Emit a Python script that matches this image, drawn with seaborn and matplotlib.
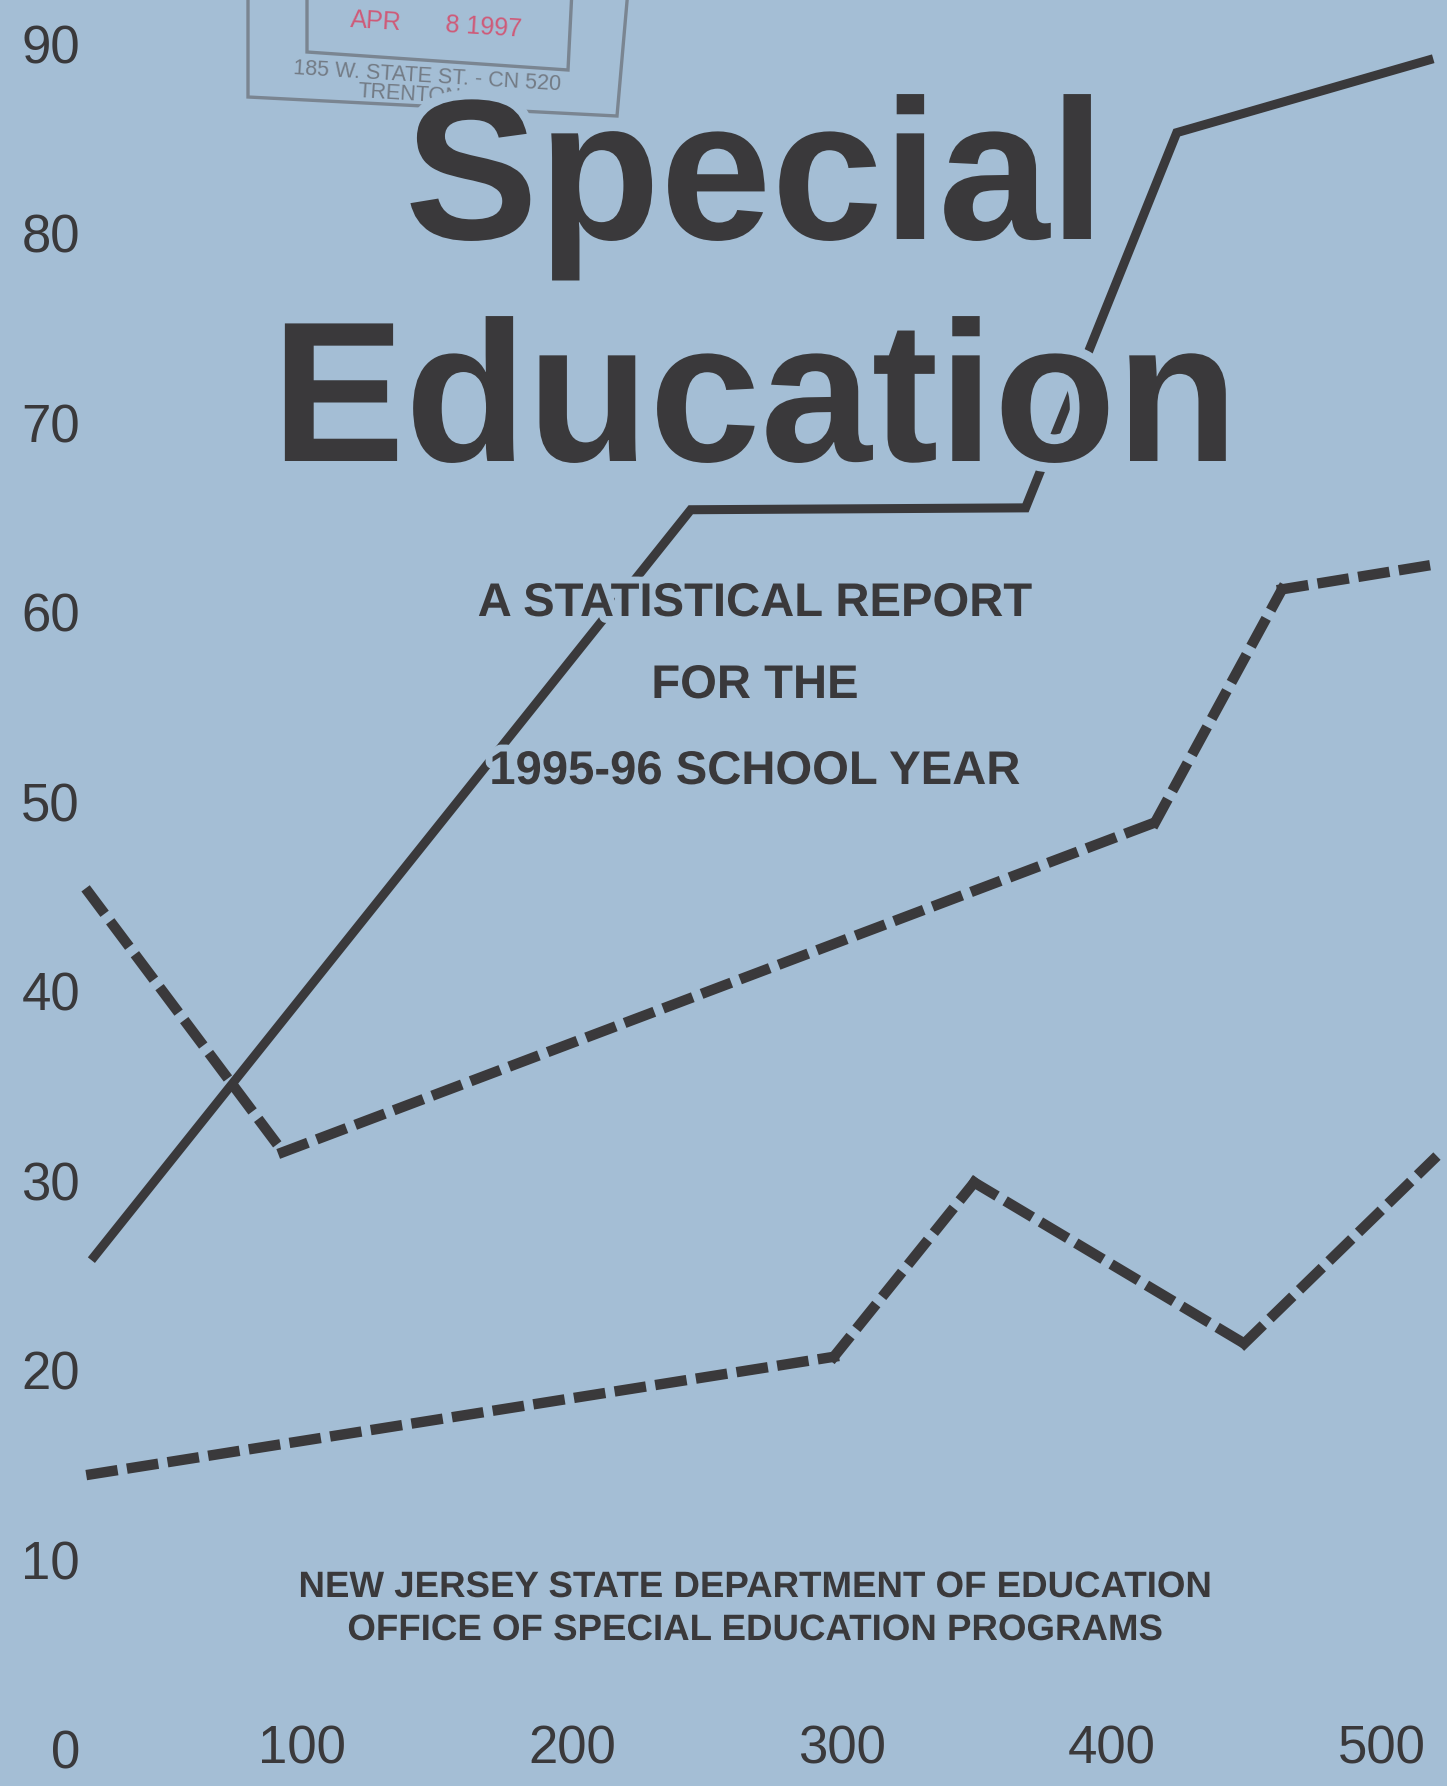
import pandas as pd
import matplotlib.pyplot as plt
import matplotlib.patheffects as pe
from matplotlib.patches import Polygon
import seaborn as sns

# ================== CONFIG ==================
sns.set_theme(style="white")
plt.rcParams["font.family"] = ["Liberation Sans", "DejaVu Sans"]
BG = "#a4bed5"
INK = "#3a393b"
STAMP = "#737b85"
W, H = 1447, 1786

# ================== DATA ==================
x_solid = [22, 244, 368, 424, 519]
y_solid = [25.8, 65.4, 65.5, 85.3, 89.2]

x_upper = [21, 93, 416, 463, 519]
y_upper = [45.2, 31.5, 48.9, 61.2, 62.5]

x_lower = [22, 297, 349, 449, 519]
y_lower = [14.5, 20.7, 29.9, 21.4, 31.1]

y_ticks = [0, 10, 20, 30, 40, 50, 60, 70, 80, 90]
x_ticks = [100, 200, 300, 400, 500]

title_lines = ["Special", "Education"]
subtitle_lines = ["A STATISTICAL REPORT", "FOR THE", "1995-96 SCHOOL YEAR"]
footer_lines = ["NEW JERSEY STATE DEPARTMENT OF EDUCATION",
                "OFFICE OF SPECIAL EDUCATION PROGRAMS"]

# dashed series split into segments so each one starts with a dash at the corner
rows = []
for name, xs, ys in [("upper", x_upper, y_upper), ("lower", x_lower, y_lower)]:
    for i in range(len(xs) - 1):
        for j in (i, i + 1):
            rows.append({"series": name, "seg": f"{name}{i}", "x": xs[j], "y": ys[j]})
df_dash = pd.DataFrame(rows)

# ================== FIGURE ==================
fig = plt.figure(figsize=(W / 100, H / 100), dpi=100)
fig.patch.set_facecolor(BG)
ax = fig.add_axes([0, 0, 1, 1])
ax.set_facecolor(BG)

sns.lineplot(x=x_solid, y=y_solid, color=INK, lw=6.5, sort=False, estimator=None,
             solid_joinstyle="miter", solid_capstyle="butt", ax=ax, zorder=3)
sns.lineplot(data=df_dash, x="x", y="y", style="series", units="seg", estimator=None,
             dashes={"upper": (2.05, 1.9), "lower": (2.05, 1.9)}, color=INK, lw=7.5,
             sort=False, legend=False, dash_capstyle="projecting", ax=ax, zorder=3)

ax.set_xlim(-11.85, 524.1)
ax.set_ylim(-1.95, 92.3)
ax.set_xlabel("")
ax.set_ylabel("")
for s in ax.spines.values():
    s.set_visible(False)
ax.grid(False)

# tick labels sit inside the plotting area
ax.tick_params(axis="both", length=0, labelsize=38, labelcolor=INK)
ax.tick_params(axis="y", pad=-57.6)
ax.tick_params(axis="x", pad=-26.6)
ax.set_yticks(y_ticks, [str(v) for v in y_ticks])
ax.set_xticks(x_ticks, [str(v) for v in x_ticks], va="center")

# ================== STAMP ==================
def fx(px): return px / W
def fy(py): return 1 - py / H

outer = [(248, -10), (248, 97), (617, 116), (628, -10)]
inner = [(307, -10), (307, 52), (568, 70), (572, -10)]
for pts in (outer, inner):
    ax.add_patch(Polygon([(fx(a), fy(b)) for a, b in pts], closed=False, fill=False,
                         edgecolor=STAMP, lw=2.4, alpha=0.85, transform=ax.transAxes, zorder=1))
ax.text(fx(293), fy(74), "185 W. STATE ST. - CN 520", transform=ax.transAxes, fontsize=15.5,
        color=STAMP, rotation=-3.5, rotation_mode="anchor", ha="left", va="baseline", zorder=1)
ax.text(fx(357), fy(97), "TRENTON", transform=ax.transAxes, fontsize=15.5,
        color=STAMP, rotation=-3.5, rotation_mode="anchor", ha="left", va="baseline", zorder=1)
ax.text(fx(350), fy(27), "APR", transform=ax.transAxes, fontsize=18, color="#cf5a78",
        rotation=-3.5, rotation_mode="anchor", ha="left", va="baseline", zorder=1)
ax.text(fx(445), fy(32), "8 1997", transform=ax.transAxes, fontsize=18, color="#cf5a78",
        rotation=-3.5, rotation_mode="anchor", ha="left", va="baseline", zorder=1)

# ================== TEXT ==================
cx = fx(755)
big_halo = [pe.withStroke(linewidth=14, foreground=BG)]
small_halo = [pe.withStroke(linewidth=10, foreground=BG)]

for txt, base in zip(title_lines, [239, 461]):
    fig.text(cx, fy(base), txt, ha="center", va="baseline", fontsize=144,
             fontweight="bold", color=INK, path_effects=big_halo, zorder=5)
for txt, base in zip(subtitle_lines, [616, 698, 784]):
    fig.text(cx, fy(base), txt, ha="center", va="baseline", fontsize=34,
             fontweight="bold", color=INK, path_effects=small_halo, zorder=5)
for txt, base in zip(footer_lines, [1597, 1640]):
    fig.text(cx, fy(base), txt, ha="center", va="baseline", fontsize=26.4,
             fontweight="bold", color=INK, path_effects=small_halo, zorder=5)

fig.savefig("out.png", dpi=100, facecolor=BG)
